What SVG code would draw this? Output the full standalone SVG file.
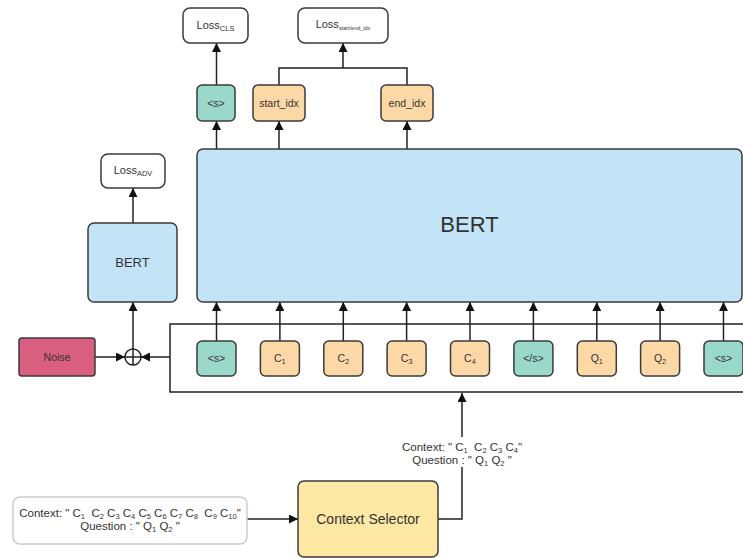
<svg xmlns="http://www.w3.org/2000/svg" width="743" height="558" viewBox="0 0 743 558">
<style>
text{font-family:"Liberation Sans",Arial,sans-serif;fill:#333;text-anchor:middle;white-space:pre}
.box{stroke:#3a3a3a;stroke-width:1.5}
.loss{fill:#fff}
.blue{fill:#c3e3f6}
.teal{fill:#9ad8ca}
.orange{fill:#fdd8a7}
.pink{fill:#da5e80}
.yellow{fill:#fde8a4}
.ln{fill:none;stroke:#222;stroke-width:1.5}
.arr{marker-end:url(#ah)}
.t{font-size:10.5px}
.lb{font-size:11.5px}
.s{font-size:7.5px}
</style>
<defs>
<marker id="ah" viewBox="0 0 10 10" refX="10" refY="5" markerWidth="9" markerHeight="9" markerUnits="userSpaceOnUse" orient="auto">
<path d="M0,0 L10,5 L0,10 Z" fill="#111"/>
</marker>
</defs>
<rect width="743" height="558" fill="#fff"/>

<g id="connectors">
<path class="ln arr" d="M216.5,85 V43"/>
<path class="ln" d="M279,85 V68 H407 V85"/>
<path class="ln arr" d="M343,68 V43"/>
<path class="ln arr" d="M216.5,149 V121"/>
<path class="ln arr" d="M279,149 V121"/>
<path class="ln arr" d="M407,149 V121"/>
<path class="ln arr" d="M216.5,341 V302"/>
<path class="ln arr" d="M279.9,341 V302"/>
<path class="ln arr" d="M343.3,341 V302"/>
<path class="ln arr" d="M406.6,341 V302"/>
<path class="ln arr" d="M470,341 V302"/>
<path class="ln arr" d="M533.4,341 V302"/>
<path class="ln arr" d="M596.8,341 V302"/>
<path class="ln arr" d="M660.1,341 V302"/>
<path class="ln arr" d="M723.5,341 V302"/>
<path class="ln" d="M743,324 H170 V392 H743"/>
<path class="ln arr" d="M133,223 V188"/>
<path class="ln arr" d="M133,349 V302"/>
<path class="ln arr" d="M95,357 H125"/>
<path class="ln arr" d="M170,357 H141"/>
<path class="ln arr" d="M247,519 H298"/>
<path class="ln arr" d="M438,519 H462 V393"/>
</g>

<g id="loss-cls"><rect class="box loss" x="183" y="8" width="65" height="35" rx="7"/><text x="215.5" y="29" font-size="11">Loss<tspan class="s" dy="2">CLS</tspan></text></g>
<g id="loss-idx"><rect class="box loss" x="298" y="8" width="90" height="35" rx="7"/><text x="343" y="28" font-size="11">Loss<tspan font-size="5.5" dy="2">start/end_idx</tspan></text></g>
<g id="loss-adv"><rect class="box loss" x="101" y="154" width="64" height="34" rx="7"/><text x="133" y="174" font-size="11">Loss<tspan class="s" dy="2">ADV</tspan></text></g>

<g id="out-s"><rect class="box teal" x="197" y="85" width="38" height="36" rx="5"/><text class="t" x="216" y="106.5">&lt;s&gt;</text></g>
<g id="start-idx"><rect class="box orange" x="253" y="85" width="52" height="36" rx="5"/><text class="t" x="279" y="106.5">start_idx</text></g>
<g id="end-idx"><rect class="box orange" x="381" y="85" width="52" height="36" rx="5"/><text class="t" x="407" y="106.5">end_idx</text></g>

<g id="bert-main"><rect class="box blue" x="197" y="149" width="545" height="153" rx="6"/><text x="469.5" y="232" font-size="22">BERT</text></g>
<g id="bert-adv"><rect class="box blue" x="88" y="223" width="89" height="79" rx="6"/><text x="132.5" y="267" font-size="13">BERT</text></g>

<g id="noise"><rect class="box pink" x="19" y="338" width="76" height="38" rx="3"/><text x="57" y="361" font-size="10.5">Noise</text></g>
<g id="plus"><circle cx="133" cy="357" r="8" fill="#fff" stroke="#222" stroke-width="1.5"/><path d="M125,357 H141 M133,349 V365" stroke="#222" stroke-width="1.5"/></g>

<g id="tok-s1"><rect class="box teal" x="197" y="341" width="39" height="35" rx="5"/><text class="t" x="216.5" y="362">&lt;s&gt;</text></g>
<g id="tok-c1"><rect class="box orange" x="260.4" y="341" width="39" height="35" rx="5"/><text class="t" x="279.9" y="362">C<tspan class="s" dy="2">1</tspan></text></g>
<g id="tok-c2"><rect class="box orange" x="323.8" y="341" width="39" height="35" rx="5"/><text class="t" x="343.3" y="362">C<tspan class="s" dy="2">2</tspan></text></g>
<g id="tok-c3"><rect class="box orange" x="387.1" y="341" width="39" height="35" rx="5"/><text class="t" x="406.6" y="362">C<tspan class="s" dy="2">3</tspan></text></g>
<g id="tok-c4"><rect class="box orange" x="450.5" y="341" width="39" height="35" rx="5"/><text class="t" x="470" y="362">C<tspan class="s" dy="2">4</tspan></text></g>
<g id="tok-sep"><rect class="box teal" x="513.9" y="341" width="39" height="35" rx="5"/><text class="t" x="533.4" y="362">&lt;/s&gt;</text></g>
<g id="tok-q1"><rect class="box orange" x="577.3" y="341" width="39" height="35" rx="5"/><text class="t" x="596.8" y="362">Q<tspan class="s" dy="2">1</tspan></text></g>
<g id="tok-q2"><rect class="box orange" x="640.6" y="341" width="39" height="35" rx="5"/><text class="t" x="660.1" y="362">Q<tspan class="s" dy="2">2</tspan></text></g>
<g id="tok-s2"><rect class="box teal" x="704" y="341" width="39" height="35" rx="5"/><text class="t" x="723.5" y="362">&lt;s&gt;</text></g>

<g id="sel-label"><rect x="398" y="437" width="128" height="30" fill="#fff"/>
<text class="lb" x="462" y="451">Context: " C<tspan class="s" dy="2">1</tspan><tspan dy="-2">  C</tspan><tspan class="s" dy="2">2</tspan><tspan dy="-2"> C</tspan><tspan class="s" dy="2">3</tspan><tspan dy="-2"> C</tspan><tspan class="s" dy="2">4</tspan><tspan dy="-2">"</tspan></text>
<text class="lb" x="462" y="464">Question : " Q<tspan class="s" dy="2">1</tspan><tspan dy="-2"> Q</tspan><tspan class="s" dy="2">2</tspan><tspan dy="-2"> "</tspan></text></g>

<g id="input"><rect x="13" y="497" width="234" height="47" rx="7" fill="#fff" stroke="#ccc" stroke-width="1.5"/>
<text class="lb" x="130" y="517">Context: " C<tspan class="s" dy="2">1</tspan><tspan dy="-2">  C</tspan><tspan class="s" dy="2">2</tspan><tspan dy="-2"> C</tspan><tspan class="s" dy="2">3</tspan><tspan dy="-2"> C</tspan><tspan class="s" dy="2">4</tspan><tspan dy="-2"> C</tspan><tspan class="s" dy="2">5</tspan><tspan dy="-2"> C</tspan><tspan class="s" dy="2">6</tspan><tspan dy="-2"> C</tspan><tspan class="s" dy="2">7</tspan><tspan dy="-2"> C</tspan><tspan class="s" dy="2">8</tspan><tspan dy="-2">  C</tspan><tspan class="s" dy="2">9</tspan><tspan dy="-2"> C</tspan><tspan class="s" dy="2">10</tspan><tspan dy="-2">"</tspan></text>
<text class="lb" x="130" y="530">Question : " Q<tspan class="s" dy="2">1</tspan><tspan dy="-2"> Q</tspan><tspan class="s" dy="2">2</tspan><tspan dy="-2"> "</tspan></text></g>

<g id="selector"><rect class="box yellow" x="298" y="481" width="140" height="76" rx="6"/><text x="368" y="524" font-size="14">Context Selector</text></g>
</svg>
